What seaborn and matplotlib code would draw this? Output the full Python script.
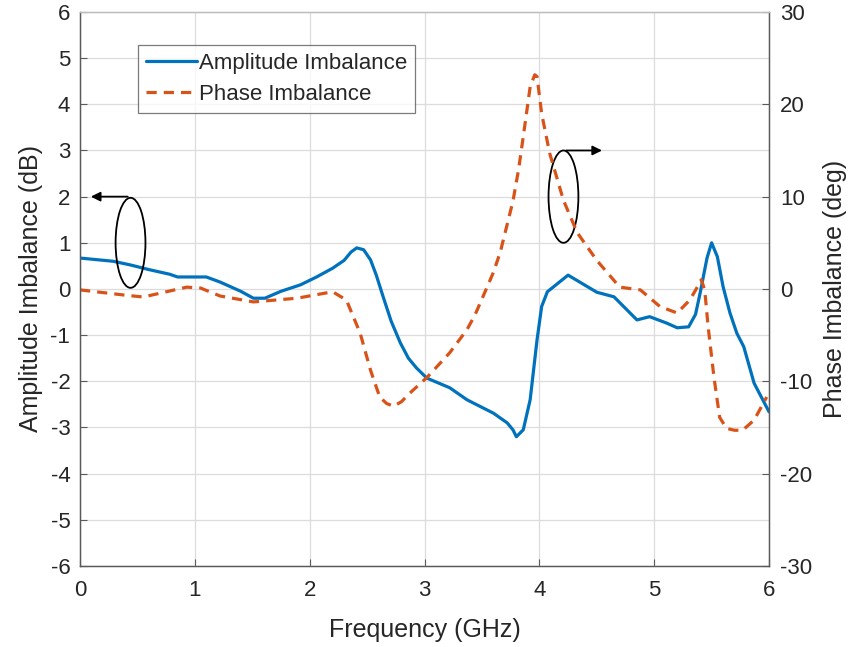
import matplotlib
matplotlib.use('Agg')

import matplotlib.pyplot as plt
import numpy as np
import pandas as pd
import seaborn as sns
from matplotlib.patches import Ellipse

# amplitude imbalance (dB) vs frequency (GHz)
amp_freq = [0, 0.29, 0.44, 0.6, 0.78, 0.85, 1.1, 1.22, 1.4, 1.51, 1.61, 1.75, 1.92, 2.06, 2.2,
            2.3, 2.36, 2.41, 2.47, 2.53, 2.58, 2.64, 2.71, 2.79, 2.86, 2.93, 3.02, 3.22, 3.37,
            3.6, 3.72, 3.77, 3.8, 3.86, 3.92, 3.98, 4.02, 4.07, 4.15, 4.25, 4.5, 4.65, 4.85,
            4.96, 5.11, 5.2, 5.3, 5.36, 5.4, 5.46, 5.5, 5.55, 5.6, 5.66, 5.72, 5.78, 5.87, 6.0]
amp_db = [0.67, 0.6, 0.52, 0.42, 0.32, 0.26, 0.26, 0.15, -0.05, -0.2, -0.2, -0.05, 0.09, 0.26, 0.45,
          0.62, 0.8, 0.89, 0.85, 0.63, 0.3, -0.17, -0.7, -1.17, -1.5, -1.71, -1.93, -2.14, -2.4,
          -2.69, -2.9, -3.05, -3.2, -3.05, -2.4, -1.1, -0.38, -0.06, 0.1, 0.3, -0.07, -0.17, -0.67,
          -0.6, -0.74, -0.84, -0.82, -0.55, -0.09, 0.67, 1.0, 0.7, 0.05, -0.52, -0.96, -1.25, -2.04, -2.66]

# phase imbalance (deg) vs frequency (GHz)
phase_freq = [0, 0.38, 0.55, 0.93, 1.05, 1.22, 1.51, 1.89, 2.2, 2.32, 2.44, 2.53, 2.61, 2.67,
              2.73, 2.8, 2.87, 3.02, 3.22, 3.37, 3.44, 3.51, 3.6, 3.66, 3.77, 3.82, 3.86, 3.92,
              3.96, 3.98, 4.02, 4.09, 4.21, 4.33, 4.5, 4.7, 4.88, 5.05, 5.2, 5.31, 5.38, 5.41,
              5.44, 5.47, 5.52, 5.57, 5.63, 5.7, 5.77, 5.87, 5.98]
phase_deg = [-0.1, -0.65, -0.87, 0.2, 0.1, -0.76, -1.4, -1.0, -0.3, -1.2, -4.8, -8.8, -11.7, -12.4,
             -12.7, -12.2, -11.3, -9.6, -6.9, -4.4, -2.8, -0.8, 1.8, 4.0, 9.5, 13.0, 16.5, 21.9,
             23.2, 23.0, 19.0, 14.7, 9.6, 6.1, 3.1, 0.2, -0.1, -1.9, -2.6, -1.2, 0.3, 1.0,
             -0.1, -4.1, -9.5, -13.9, -15.1, -15.3, -15.3, -14.2, -11.7]

blue = '#0072BD'
orange = '#D95319'
txtcol = '#262626'
spcol = '#5a5a5a'

sns.set_style('ticks')
plt.rcParams['font.family'] = ['Liberation Sans', 'DejaVu Sans']
plt.rcParams['axes.unicode_minus'] = False

amp = pd.DataFrame({'freq': amp_freq, 'amp': amp_db})
ph = pd.DataFrame({'freq': phase_freq, 'phase': phase_deg})

fig = plt.figure(figsize=(8.63, 6.47), dpi=100)
ax = fig.add_axes([0.0927, 0.1252, 0.7984, 0.8563])
ax2 = ax.twinx()

sns.lineplot(data=amp, x='freq', y='amp', ax=ax, color=blue, lw=2.3, label='Amplitude Imbalance', legend=False)
sns.lineplot(data=ph, x='freq', y='phase', ax=ax2, color=orange, lw=2.3, label='Phase Imbalance', legend=False)
ax2.lines[0].set_dashes((3.2, 2.2))

ax.set_xlim(0, 6)
ax.set_ylim(-6, 6)
ax2.set_ylim(-30, 30)
ax.set_xticks(range(0, 7))
ax.set_yticks(range(-6, 7))
ax2.set_yticks(range(-30, 31, 10))
ax.grid(True, color='#dcdcdc', lw=0.9)

ax.set_xlabel('Frequency (GHz)', fontsize=18, color=txtcol, labelpad=12)
ax.set_ylabel('Amplitude Imbalance (dB)', fontsize=18, color=txtcol, labelpad=5)
ax2.set_ylabel('Phase Imbalance (deg)', fontsize=18, color=txtcol, labelpad=8)

for a in (ax, ax2):
    a.tick_params(direction='in', labelsize=16, color=spcol, labelcolor=txtcol, length=5)
    for s in a.spines.values():
        s.set_color(spcol)
        s.set_linewidth(0.9)
        s.set_visible(True)
ax.tick_params(axis='x', pad=10)
ax.tick_params(axis='y', pad=7)
ax2.tick_params(axis='y', pad=8)
ax.spines['top'].set_color('#bdbdbd')
ax2.spines['top'].set_color('#bdbdbd')

# annotation ellipses with arrows
ax.add_patch(Ellipse((0.44, 1.0), 0.26, 1.95, fill=False, ec='black', lw=1.3, zorder=5))
ax.annotate('', xy=(0.07, 2.0), xytext=(0.44, 2.0),
            arrowprops=dict(arrowstyle='-|>', color='black', lw=1.3, mutation_scale=14))
ax.add_patch(Ellipse((4.21, 2.0), 0.26, 2.0, fill=False, ec='black', lw=1.3, zorder=5))
ax.annotate('', xy=(4.57, 3.0), xytext=(4.21, 3.0),
            arrowprops=dict(arrowstyle='-|>', color='black', lw=1.3, mutation_scale=14))

handles = ax.get_lines()[:1] + ax2.get_lines()[:1]
leg = ax2.legend(handles, ['Amplitude Imbalance', 'Phase Imbalance'], loc='upper left',
                 bbox_to_anchor=(0.084, 0.94), fontsize=16, frameon=True, fancybox=False,
                 handlelength=2.3, handletextpad=0.1, borderpad=0.35, labelspacing=0.45,
                 borderaxespad=0)
leg.get_frame().set_edgecolor(spcol)
leg.get_frame().set_linewidth(0.9)
for t in leg.get_texts():
    t.set_color(txtcol)

fig.savefig('out.png', dpi=100)
